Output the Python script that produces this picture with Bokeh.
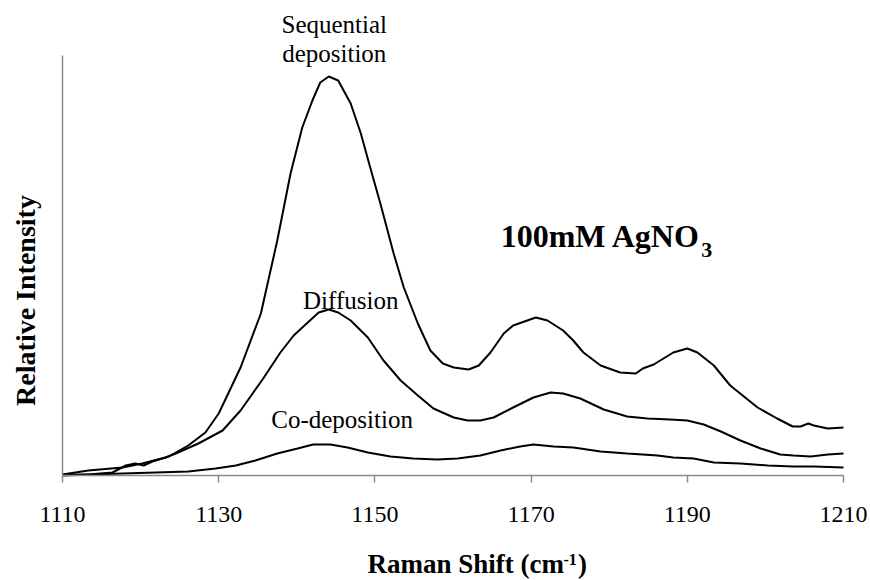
from bokeh.plotting import figure
from bokeh.models import Range1d, FixedTicker, Label
from bokeh.embed import file_html
from bokeh.resources import INLINE
import math

# Raman spectra of Ag deposits (100 mM AgNO3), relative intensity in arbitrary units
seq_shift = [1110.0, 1113.3, 1116.4, 1118.1, 1119.3, 1120.4, 1121.5, 1123.6, 1126.1, 1128.3,
             1130.0, 1132.8, 1135.4, 1137.5, 1139.2, 1140.7, 1142.0, 1143.0, 1144.1, 1145.3,
             1146.9, 1148.2, 1149.4, 1150.7, 1152.4, 1153.7, 1155.5, 1157.1, 1158.7, 1160.1,
             1162.0, 1163.3, 1164.8, 1166.5, 1167.7, 1170.6, 1172.1, 1174.1, 1175.4, 1176.7,
             1178.9, 1181.4, 1183.4, 1184.3, 1185.7, 1188.2, 1190.0, 1191.3, 1193.4, 1195.5,
             1199.0, 1201.5, 1203.5, 1204.5, 1205.5, 1206.2, 1208.0, 1210.0]
seq_int = [1, 1, 3, 10, 12, 10, 14, 19, 30, 43,
           62, 108, 162, 235, 302, 348, 375, 393, 399, 395,
           372, 342, 308, 272, 222, 188, 152, 125, 112, 108,
           106, 110, 123, 142, 150, 158, 155, 145, 135, 123,
           110, 103, 102, 107, 111, 123, 127, 123, 110, 90,
           68, 57, 49, 49, 52, 50, 47, 48]

dif_shift = [1110.0, 1113.3, 1117.7, 1120.2, 1123.2, 1124.5, 1127.4, 1130.5, 1132.8, 1135.7,
             1137.9, 1139.6, 1141.4, 1142.8, 1144.1, 1145.3, 1146.9, 1149.1, 1151.1, 1153.3,
             1155.5, 1157.5, 1160.1, 1161.9, 1163.5, 1165.2, 1167.7, 1170.3, 1172.5, 1174.1,
             1176.3, 1179.3, 1182.3, 1184.9, 1187.8, 1190.0, 1192.1, 1194.3, 1196.8, 1199.4,
             1201.9, 1203.6, 1205.8, 1208.0, 1210.0]
dif_int = [1, 5, 8, 12, 18, 22, 32, 45, 65, 97,
           123, 140, 153, 163, 166, 163, 155, 138, 115, 95,
           80, 67, 58, 55, 55, 58, 68, 78, 83, 82,
           77, 66, 59, 57, 56, 55, 51, 44, 35, 27,
           21, 20, 19, 21, 22]

cod_shift = [1110.0, 1117.7, 1121.9, 1126.1, 1129.6, 1132.2, 1134.7, 1137.5, 1140.1, 1142.1,
             1144.3, 1146.5, 1149.1, 1152.0, 1154.9, 1158.0, 1160.6, 1163.5, 1166.1, 1168.6,
             1170.3, 1172.9, 1175.4, 1176.3, 1178.9, 1182.3, 1186.2, 1188.2, 1190.8, 1193.4,
             1196.8, 1200.3, 1203.6, 1206.2, 1210.0]
cod_int = [0, 2, 3, 4, 7, 10, 15, 22, 27, 31,
           31, 28, 23, 19, 17, 16, 17, 20, 25, 29,
           31, 29, 28, 27, 24, 22, 20, 18, 17, 13,
           12, 10, 9, 9, 8]

x_ticks = [1110, 1130, 1150, 1170, 1190, 1210]
x_span = (1110, 1210)
y_span = (0, 420)

SERIF = "Liberation Serif"
AXIS_GREY = "#8a8a8a"

# The frame covers the whole canvas so that the titles around the axes can be
# placed as labels; the axes are pinned to the spectrum's own extent.
PX_PER_CM = 7.81
p = figure(width=870, height=580, output_backend="svg", toolbar_location=None,
           x_range=Range1d(x_span[0] - 62 / PX_PER_CM, x_span[0] + 808 / PX_PER_CM),
           y_range=Range1d(-105, 475),
           min_border=0)
p.outline_line_color = None
p.background_fill_color = "white"
p.border_fill_color = "white"
p.xgrid.visible = False
p.ygrid.visible = False

for xs, ys in [(seq_shift, seq_int), (dif_shift, dif_int), (cod_shift, cod_int)]:
    p.line(xs, ys, line_color="black", line_width=2)

# x axis: grey line, outward ticks every 20 cm-1
xa = p.xaxis[0]
xa.fixed_location = y_span[0]
xa.bounds = x_span
xa.ticker = FixedTicker(ticks=x_ticks)
xa.axis_line_color = AXIS_GREY
xa.axis_line_width = 1.5
xa.major_tick_line_color = AXIS_GREY
xa.major_tick_line_width = 1.5
xa.major_tick_in = 0
xa.major_tick_out = 7
xa.minor_tick_line_color = None
xa.major_label_text_font = SERIF
xa.major_label_text_font_size = "24px"
xa.major_label_text_color = "black"
xa.major_label_standoff = 24

# y axis: bare grey line, no ticks or numbers
ya = p.yaxis[0]
ya.fixed_location = x_span[0]
ya.bounds = y_span
ya.ticker = FixedTicker(ticks=[])
ya.axis_line_color = AXIS_GREY
ya.axis_line_width = 1.5
ya.major_tick_line_color = None
ya.minor_tick_line_color = None


def add_label(x, y, text, size, bold=False, align="left", baseline="alphabetic", angle=0.0):
    p.add_layout(Label(x=x, y=y, text=text, text_font=SERIF, text_font_size=size,
                       text_font_style="bold" if bold else "normal", text_color="black",
                       text_align=align, text_baseline=baseline, angle=angle))


# curve annotations
add_label(1144.8, 451, "Sequential", "25px", align="center")
add_label(1144.8, 422, "deposition", "25px", align="center")
add_label(1146.9, 175, "Diffusion", "25px", align="center")
add_label(1145.8, 56, "Co-deposition", "25px", align="center")

# concentration tag with subscript
add_label(1166.1, 240, "100mM AgNO", "32px", bold=True)
add_label(1191.8, 226, "3", "22px", bold=True)

# axis titles
add_label(1105.2, 175, "Relative Intensity", "28px", bold=True, align="center",
          baseline="middle", angle=math.pi / 2)
add_label(1149.05, -88, "Raman Shift (cm", "27px", bold=True)
add_label(1174.15, -84, "-1", "16px", bold=True)
add_label(1176.0, -88, ")", "27px", bold=True)

open("out.html", "w").write(file_html(p, INLINE))
